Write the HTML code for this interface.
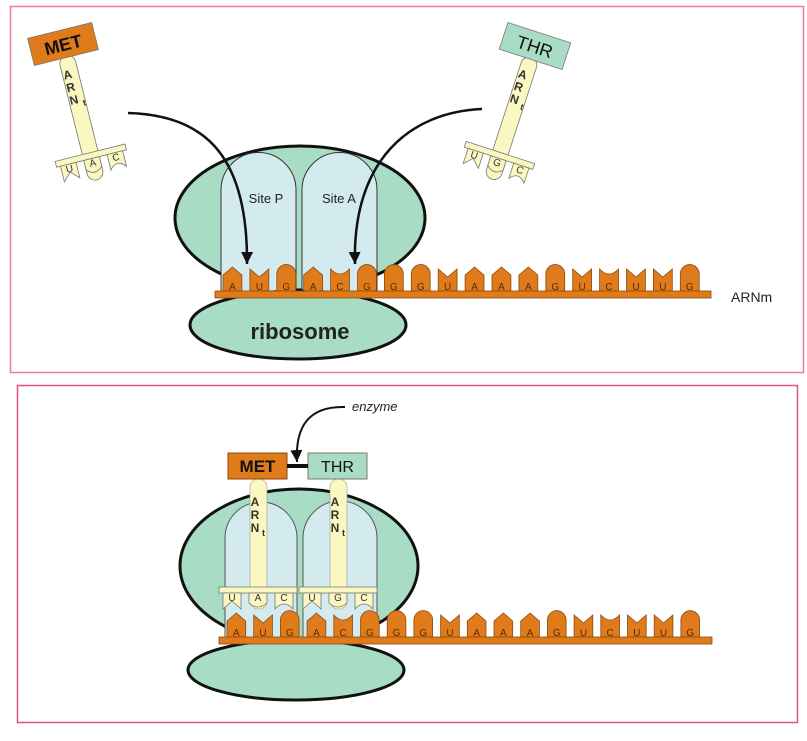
<!DOCTYPE html>
<html><head><meta charset="utf-8"><style>
html,body{margin:0;padding:0;background:#fff}
svg{display:block}
text{font-family:"Liberation Sans",Arial,sans-serif}
</style></head><body>
<svg id="fig" width="807" height="741" viewBox="0 0 807 741" xmlns="http://www.w3.org/2000/svg">
<defs>
<marker id="ah" markerWidth="12" markerHeight="12" refX="10" refY="5" orient="auto" markerUnits="userSpaceOnUse" viewBox="0 0 10 10">
<path d="M0,0 L10,5 L0,10 Z" fill="#111"/>
</marker>
</defs>
<rect x="10.5" y="6.5" width="793" height="366" fill="#fff" stroke="#e87ab8" stroke-width="1.5"/>
<rect x="17.5" y="385.5" width="780" height="337" fill="#fff" stroke="#e0508e" stroke-width="1.5"/>

<!-- TOP PANEL -->
<g>
<ellipse cx="300" cy="218" rx="125" ry="72" fill="#a8dcc4" stroke="#111" stroke-width="3"/>
<path d="M221,293 V190 A37.5,37.5 0 0 1 296,190 V293 Z" fill="#d3ebee" stroke="#333" stroke-width="1"/>
<path d="M302,293 V190 A37.5,37.5 0 0 1 377,190 V293 Z" fill="#d3ebee" stroke="#333" stroke-width="1"/>
<text x="266" y="203" font-size="13" text-anchor="middle" fill="#222">Site P</text>
<text x="339" y="203" font-size="13" text-anchor="middle" fill="#222">Site A</text>
<ellipse cx="298" cy="325" rx="108" ry="34" fill="#a8dcc4" stroke="#111" stroke-width="3"/>
<text x="300" y="339" font-size="22" font-weight="bold" text-anchor="middle" fill="#222">ribosome</text>
<g id="mrnaTop"></g>
<text x="731" y="302" font-size="14" fill="#222">ARNm</text>
<path d="M128,113 C200,115 248,150 247,264" fill="none" stroke="#111" stroke-width="2.5" marker-end="url(#ah)"/>
<path d="M482,109 C410,112 352,160 355,264" fill="none" stroke="#111" stroke-width="2.5" marker-end="url(#ah)"/>
<g id="trnaMet" transform="translate(63,44) rotate(-14)"></g>
<g id="trnaThr" transform="translate(535,46) rotate(18)"></g>
</g>

<!-- BOTTOM PANEL -->
<g>
<ellipse cx="299" cy="566" rx="119" ry="77" fill="#a8dcc4" stroke="#111" stroke-width="3"/>
<path d="M225,638 V538 A36,36 0 0 1 297,538 V638 Z" fill="#d3ebee" stroke="#555" stroke-width="1"/>
<path d="M303,638 V538 A37,37 0 0 1 377,538 V638 Z" fill="#d3ebee" stroke="#555" stroke-width="1"/>
<ellipse cx="296" cy="670" rx="108" ry="30" fill="#a8dcc4" stroke="#111" stroke-width="3"/>
<g id="mrnaBot"></g>
<g id="bound"></g>
<rect x="228" y="453" width="59" height="26" fill="#e07b1c" stroke="#8a4a10"/>
<text x="257.5" y="472" font-size="17" font-weight="bold" text-anchor="middle" fill="#111">MET</text>
<rect x="308" y="453" width="59" height="26" fill="#a8dcc4" stroke="#777"/>
<text x="337.5" y="472" font-size="16" text-anchor="middle" fill="#111">THR</text>
<rect x="287" y="464" width="21" height="4" fill="#111"/>
<path d="M345,407 C310,406 295,425 297,462" fill="none" stroke="#111" stroke-width="2" marker-end="url(#ah)"/>
<text x="352" y="411" font-size="13" font-style="italic" fill="#222">enzyme</text>
</g>
</svg>
<script>
const NS="http://www.w3.org/2000/svg";
const seqTop=["A","U","G","A","C","G","G","G","U","A","A","A","G","U","C","U","U","G"];
const seqBot=["A","U","G","A","C","G","G","G","U","A","A","A","G","U","C","U","U","G"];
const antiMet=["U","A","C"];
const antiThr=["U","G","C"];
function mk(tag,attrs,parent){const e=document.createElementNS(NS,tag);for(const k in attrs)e.setAttribute(k,attrs[k]);parent.appendChild(e);return e;}
function topShape(b,x,w,y){
  const l=x+4,r=x+w-4,m=x+w/2;
  if(b==="A") return `M${l},${y} L${l},${y-2} L${m},${y-10} L${r},${y-2} L${r},${y}`;
  if(b==="G") return `M${l},${y} L${l},${y-3} A${(r-l)/2},${(r-l)/2} 0 0 1 ${r},${y-3} L${r},${y}`;
  if(b==="U") return `M${l},${y} L${l},${y-8} L${m},${y} L${r},${y-8} L${r},${y}`;
  return `M${l},${y} L${l},${y-8} Q${m},${y+2} ${r},${y-8} L${r},${y}`;
}
function mrna(g,seq,x0,w,yBar,xEnd){
  seq.forEach((b,i)=>{
    const x=x0+i*w;
    const p=mk("path",{d:topShape(b,x,w,yBar-14)+` L${x+w-4},${yBar} L${x+4},${yBar} Z`,fill:"#e07b1c",stroke:"#8a4a10","stroke-width":"0.8"},g);
    
    
    const t=mk("text",{x:x+w/2,y:yBar-1,"font-size":"10","text-anchor":"middle",fill:"#5a2c05"},g);
    t.textContent=b;
    
    
  });
  const bar=mk("rect",{x:x0-4,y:yBar,width:xEnd-x0+4,height:7,fill:"#e07b1c",stroke:"#8a4a10","stroke-width":"0.8"},g);
  
  
}
mrna(document.getElementById("mrnaTop"),seqTop,219,26.9,291,711);
mrna(document.getElementById("mrnaBot"),seqBot,223,26.7,637,712);

function anti(g,codon,cx,y,w){
  const x0=cx-1.5*w;
  const bar=mk("rect",{x:x0,y:y,width:3*w,height:6,fill:"#fbf7c0",stroke:"#777","stroke-width":"0.8"},g);
  
  
  codon.forEach((b,i)=>{
    const x=x0+i*w,l=x+4,r=x+w-4,m=x+w/2,yb=y+6,d=y+22;
    let p;
    if(b==="A"||b==="G") p=`M${l},${yb} L${l},${d-6} Q${m},${d+2} ${r},${d-6} L${r},${yb} Z`;
    else if(b==="U") p=`M${l},${yb} L${l},${d} L${m},${d-8} L${r},${d} L${r},${yb} Z`;
    else p=`M${l},${yb} L${l},${d} Q${m},${d-10} ${r},${d} L${r},${yb} Z`;
    const e=mk("path",{d:p,fill:"#fbf7c0",stroke:"#777","stroke-width":"0.8"},g);
    
    
    const t=mk("text",{x:m,y:y+14,"font-size":"10","text-anchor":"middle",fill:"#333"},g);
    t.textContent=b;
    
    
  });
}
function trna(g,label,boxFill,codon){
  const stem=mk("rect",{x:-8,y:12,width:16,height:128,rx:8,fill:"#fbf7c0",stroke:"#777","stroke-width":"0.8"},g);
  
  
  anti(g,codon,0,112,24);
  const box=mk("rect",{x:-33,y:-14,width:66,height:28,fill:boxFill,stroke:"#777","stroke-width":"0.8"},g);
  
  
  const t=mk("text",{x:0,y:7,"font-size":"18","font-weight":label==="MET"?"bold":"normal","text-anchor":"middle",fill:"#111"},g);
  t.textContent=label;
  
  
  ["A","R","N"].forEach((c,i)=>{
    const tt=mk("text",{x:-3,y:35+i*13,"font-size":"12","font-weight":"bold","text-anchor":"middle",fill:"#333"},g);
    tt.textContent=c;
    
    
  });
  const s=mk("text",{x:5,y:65,"font-size":"9","font-weight":"bold",fill:"#333"},g);
  s.textContent="t";
  
  
}
trna(document.getElementById("trnaMet"),"MET","#e07b1c",antiMet);
trna(document.getElementById("trnaThr"),"THR","#a8dcc4",antiThr);

const bg=document.getElementById("bound");
[[258,antiMet],[338,antiThr]].forEach(([cx,cod])=>{
  const st=mk("rect",{x:cx-8,y:479,width:17,height:130,rx:8,fill:"#fbf7c0",stroke:"#999","stroke-width":"0.6"},bg);
  
  
  anti(bg,cod,cx,587,26);
  ["A","R","N"].forEach((c,i)=>{
    const tt=mk("text",{x:cx-3,y:506+i*13,"font-size":"12","font-weight":"bold","text-anchor":"middle",fill:"#333"},bg);
    tt.textContent=c;
    
    
  });
  const s=mk("text",{x:cx+4,y:536,"font-size":"9","font-weight":"bold",fill:"#333"},bg);
  s.textContent="t";
  
  
});
</script>
</body></html>
